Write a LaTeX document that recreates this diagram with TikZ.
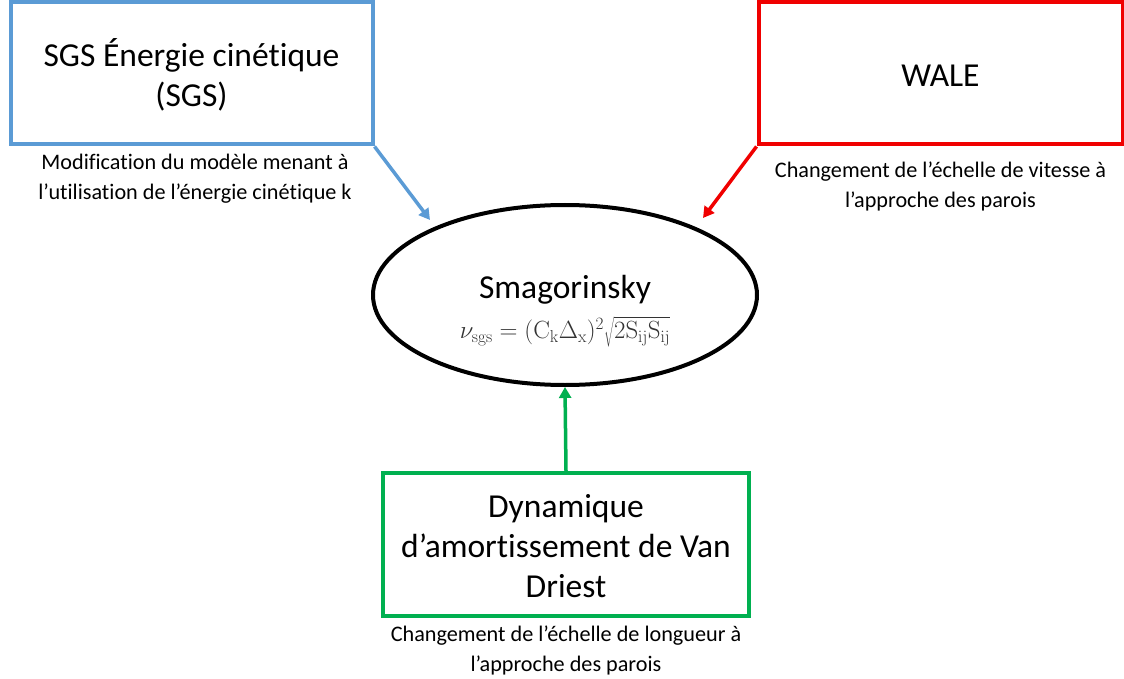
\documentclass[tikz,border=0pt]{standalone}
\usepackage[no-math]{fontspec}
\setmainfont[Ligatures={NoCommon}]{Carlito}
\usetikzlibrary{arrows.meta,shapes.geometric}
\definecolor{cblue}{RGB}{91,155,213}
\definecolor{cred}{RGB}{240,0,0}
\definecolor{cgreen}{RGB}{0,176,80}
\begin{document}
\begin{tikzpicture}[x=1pt,y=-1pt,
  box/.style={draw,line width=4pt,inner sep=0pt},
  big/.style={font=\fontsize{33.5}{40}\selectfont,align=center},
  captext/.style={font=\fontsize{22.2}{30}\selectfont,align=center},
  conn/.style={line width=3.5pt,-{Triangle[length=11pt,width=12pt]}}]
\useasboundingbox (0,0) rectangle (1124,679);
\node[box,cblue,minimum width=362pt,minimum height=142pt] (sgs) at (191.5,73.5) {};
\node[big] (sgst) at (191.5,75) {SGS Énergie cinétique\\(SGS)};
\node[captext] (sgsc) at (195,179) {Modification du modèle menant à\\l’utilisation de l’énergie cinétique k};
\node[box,cred,minimum width=364pt,minimum height=142pt] (wale) at (940.5,73.5) {};
\node[big] (walet) at (940.5,76) {WALE};
\node[captext] (walec) at (940.5,186) {Changement de l’échelle de vitesse à\\l’approche des parois};
\node[draw,line width=4pt,ellipse,minimum width=384pt,minimum height=180pt,inner sep=0pt] (sma) at (565,295) {};
\node[big] (smat) at (565,290) {Smagorinsky};
\node[font=\fontsize{23}{26}\selectfont,text=black!80] (smaf) at (565,332) {$\mathrm{\nu_{sgs}} = (\mathrm{C_k}\Delta_\mathrm{x})^2\sqrt{\vphantom{\big(}2\mathrm{S_{ij}S_{ij}}}$};
\node[box,cgreen,minimum width=366pt,minimum height=143pt] (vd) at (566,544.5) {};
\node[big] (vdt) at (566,546) {Dynamique\\d’amortissement de Van\\Driest};
\node[captext] (vdc) at (566,650) {Changement de l’échelle de longueur à\\l’approche des parois};
\draw[conn,cblue] (sgs.south east) -- (430,220);
\draw[conn,cred] (wale.south west) -- (703,218);
\draw[conn,cgreen] (vd.north) -- (sma.south);
\end{tikzpicture}
\end{document}
